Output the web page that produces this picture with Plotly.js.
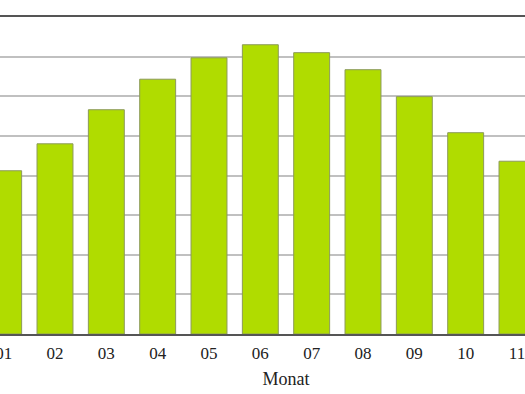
<!DOCTYPE html>
<html>
<head>
<meta charset="utf-8">
<script src="https://cdn.plot.ly/plotly-3.0.1.min.js"></script>
<style>
html, body { margin:0; padding:0; width:525px; height:394px; overflow:hidden; background:#fff; }
#chart { position:absolute; left:-22px; top:0; width:616px; height:394px; }
</style>
</head>
<body>
<div id="chart"></div>
<script>
const months = ["01","02","03","04","05","06","07","08","09","10","11"];
const values = [4.12, 4.80, 5.66, 6.43, 6.97, 7.30, 7.10, 6.67, 5.99, 5.08, 4.36];
const xTitle = "Monat";

const trace = {
  type: "bar",
  x: months,
  y: values,
  marker: { color: "#b0dc00", line: { color: "#8c9a5a", width: 1 } },
  hoverinfo: "skip"
};

const layout = {
  width: 616, height: 394,
  margin: { l: 0, r: 0, t: 17, b: 60 },
  paper_bgcolor: "#fff", plot_bgcolor: "#fff",
  bargap: 0.3,
  showlegend: false,
  font: { family: "Liberation Serif, serif", color: "#222", size: 17 },
  xaxis: {
    type: "category",
    range: [-0.5, 11.5],
    showline: true, linecolor: "#555", linewidth: 2, mirror: true,
    showgrid: false, ticks: "",
    ticklabelstandoff: 3,
    tickfont: { family: "Liberation Serif, serif", size: 17, color: "#222" },
    title: { text: xTitle, font: { family: "Liberation Serif, serif", size: 18, color: "#222" }, standoff: 10 }
  },
  yaxis: {
    range: [0, 8], dtick: 1,
    showgrid: true, gridcolor: "#c0c0c0", gridwidth: 2,
    zeroline: false, showline: false, showticklabels: false, ticks: ""
  }
};

Plotly.newPlot("chart", [trace], layout, { staticPlot: true, displayModeBar: false });
</script>
</body>
</html>
